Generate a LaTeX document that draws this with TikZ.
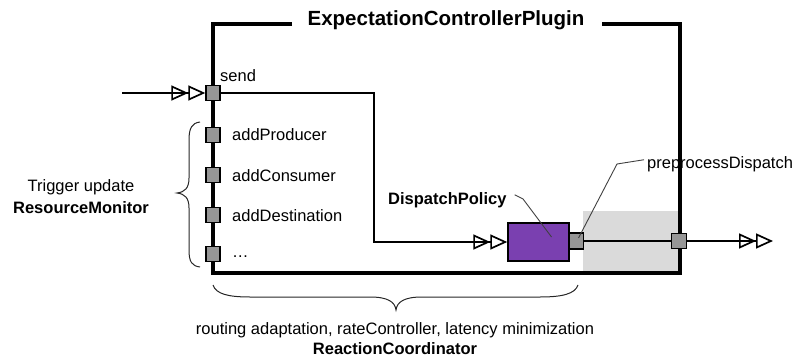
\documentclass[tikz,border=0pt]{standalone}
\usepackage{fontspec}
\setmainfont{Liberation Sans}
\usetikzlibrary{arrows.meta,calc}
\definecolor{portgray}{RGB}{150,150,150}
\definecolor{shadegray}{RGB}{218,218,218}
\definecolor{dppurple}{RGB}{122,64,176}
\tikzset{
  frame/.style={line width=4pt, line join=miter},
  portbox/.style={draw=black, fill=portgray, line width=1.5pt, minimum width=14pt, minimum height=15pt, inner sep=0pt},
  conn/.style={line width=1.7pt},
  dbl/.style={-{Triangle[open,length=17pt,width=15pt,sep=0pt]Triangle[open,length=17pt,width=15pt,sep=0pt]}},
  leader/.style={line width=0.9pt, draw=black!75},
  lbl/.style={font=\fontsize{16.5}{20}\selectfont, inner sep=0pt},
  blbl/.style={font=\fontsize{16.5}{20}\selectfont\bfseries, inner sep=0pt},
  brace/.style={line width=1pt, draw=black!85},
}
\begin{document}
\begin{tikzpicture}[x=1pt,y=-1pt]
\useasboundingbox (0,0) rectangle (799,358);
% shaded region
\fill[shadegray] (583,211) rectangle (680,273);
% frame
\draw[frame] (292,24) -- (213,24) -- (213,273) -- (680,273) -- (680,24) -- (602,24);
\node[font=\fontsize{20.5}{24}\selectfont\bfseries, inner sep=0pt, anchor=base] (title) at (446,26) {ExpectationControllerPlugin};
% ports
\node[portbox] (send) at (213,93) {};
\node[portbox] (p1) at (213,135) {};
\node[portbox] (p2) at (213,175) {};
\node[portbox] (p3) at (213,215) {};
\node[portbox] (p4) at (213,254) {};
\node[draw=black, fill=dppurple, line width=1.5pt, minimum width=61pt, minimum height=38pt, inner sep=0pt] (dp) at (538.5,242) {};
\node[portbox, minimum height=16pt] (pp) at (576.5,241) {};
\node[portbox, minimum size=15pt] (rp) at (679,241) {};
% labels
\node[lbl, anchor=base west] (sendl) at (220,82) {send};
\node[lbl, anchor=base west] (l1) at (232,141) {addProducer};
\node[lbl, anchor=base west] (l2) at (232,181) {addConsumer};
\node[lbl, anchor=base west] (l3) at (232,221) {addDestination};
\node[lbl, anchor=base west] (l4) at (232,257) {…};
\node[blbl, anchor=base west] (dpl) at (388,204) {DispatchPolicy};
\node[lbl, anchor=base west] (ppl) at (647,168) {preprocessDispatch};
\node[lbl, anchor=base] (trig) at (81,191) {Trigger update};
\node[blbl, anchor=base] (rm) at (81,213) {ResourceMonitor};
\node[lbl, anchor=base] (rout) at (395,334) {routing adaptation, rateController, latency minimization};
\node[blbl, anchor=base] (rc) at (395,354) {ReactionCoordinator};
% connectors
\coordinate (in) at (122,93);
\coordinate (out) at (773,241);
\draw[conn, dbl] (in) -- (send.west);
\draw[conn, dbl] (send.east) -- (374,93) |- (dp.west);
\draw[conn] (pp.east) -- (rp.west);
\draw[conn, dbl] (rp.east) -- (out);
% leaders
\draw[leader] ($(ppl.west)+(-3,-4)$) -- (617,164) -- ($(pp.center)+(2,-3)$);
\draw[leader] ($(dpl.east)+(8,-5)$) -- (523,199) -- ($(dp.center)+(13,-5)$);
% braces
\draw[brace] (200,122) .. controls (192,123) and (189,128) .. (189,140) -- (189,178)
  .. controls (189,188) and (185,192) .. (177,193)
  .. controls (185,194) and (189,198) .. (189,208) -- (189,250)
  .. controls (189,262) and (192,266) .. (200,267);
\draw[brace] (213,285) .. controls (216,294) and (228,297) .. (250,297) -- (370,297)
  .. controls (388,297) and (395,302) .. (396,310)
  .. controls (397,302) and (404,297) .. (422,297) -- (540,297)
  .. controls (562,297) and (575,294) .. (578,285);
\end{tikzpicture}
\end{document}
